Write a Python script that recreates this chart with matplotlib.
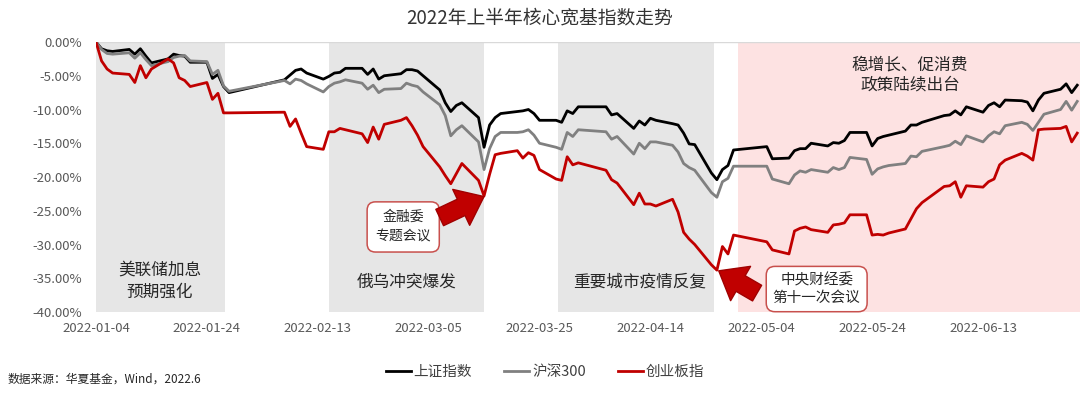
import pandas as pd
import numpy as np
import matplotlib
matplotlib.use('Agg')
import matplotlib.pyplot as plt

plt.rcParams['font.family'] = ['Noto Sans CJK SC', 'DejaVu Sans']

# trading days, 2022 H1 (SSE calendar)
holidays = ['2022-01-31', '2022-02-01', '2022-02-02', '2022-02-03', '2022-02-04',
            '2022-04-04', '2022-04-05', '2022-05-02', '2022-05-03', '2022-05-04',
            '2022-06-03']
dates = pd.bdate_range('2022-01-04', '2022-06-30', freq='C', holidays=holidays)

# cumulative return since 2022-01-04, %
sh_index = [
    # Jan
    0, -1.0, -1.3, -1.4, -1.1, -1.8, -1.0, -2.1, -3.1, -2.5, -1.8, -2.0, -2.1, -3.0, -3.0, -5.4, -4.8, -6.6, -7.5,
    # Feb
    -5.6, -4.9, -4.2, -4.0, -4.6, -5.5, -5.1, -4.6, -4.5, -3.9, -3.9, -4.8, -4.0, -5.5, -5.0, -4.7,
    # Mar
    -4.1, -4.1, -4.3, -5.0, -7.1, -9.0, -10.3, -9.4, -9.0, -11.2, -15.6, -12.3, -11.2, -10.6, -10.3, -10.2,
    -10.0, -10.6, -11.6, -11.6, -11.9, -10.2, -10.6,
    # Apr
    -9.6, -9.6, -10.8, -10.6, -12.8, -11.7, -12.3, -11.3, -11.6, -12.1, -12.3, -13.5, -15.1, -15.2, -19.4,
    -20.4, -18.9, -18.3, -16.0,
    # May
    -15.5, -17.3, -17.2, -16.1, -15.8, -15.8, -15.0, -15.4, -14.9, -15.0, -14.6, -13.4, -13.4, -15.4, -14.3,
    -14.0, -13.8, -13.2, -12.3,
    # Jun
    -12.3, -11.9, -10.9, -10.8, -10.2, -10.8, -9.6, -10.4, -9.4, -9.0, -9.6, -8.6, -8.7, -8.9, -10.2, -8.6,
    -7.6, -7.0, -6.2, -7.5, -6.4,
]
hs300 = [
    0, -1.1, -1.7, -1.8, -1.6, -2.4, -1.6, -2.6, -3.5, -2.9, -2.3, -2.1, -2.0, -2.8, -2.9, -4.8, -4.2, -6.5, -7.3,
    -5.7, -6.2, -5.5, -5.7, -6.2, -7.4, -6.6, -6.1, -5.9, -5.6, -6.1, -7.0, -6.4, -7.5, -7.0, -6.9,
    -6.1, -6.4, -6.6, -7.4, -9.3, -10.9, -13.9, -13.0, -12.4, -14.8, -18.9, -15.8, -14.0, -13.4, -13.4, -13.3,
    -13.0, -13.8, -15.0, -15.6, -15.9, -13.4, -14.0,
    -13.0, -13.3, -14.4, -14.0, -16.6, -15.0, -15.8, -14.8, -14.8, -15.3, -16.3, -18.0, -18.6, -19.0, -22.3,
    -23.0, -20.7, -20.2, -18.4,
    -18.4, -20.3, -21.0, -19.7, -19.1, -19.3, -18.9, -19.3, -18.6, -18.9, -18.6, -17.1, -17.4, -19.6, -18.8,
    -18.5, -18.3, -18.0, -16.9,
    -17.0, -16.2, -15.5, -15.3, -14.7, -15.2, -13.9, -14.8, -13.9, -13.3, -13.6, -12.4, -11.9, -12.2, -13.1,
    -11.9, -10.7, -10.0, -8.8, -10.1, -8.8,
]
chinext = [
    0, -2.8, -4.0, -4.6, -4.8, -6.0, -3.5, -5.3, -4.0, -2.5, -3.1, -5.3, -5.7, -6.6, -6.0, -8.5, -7.6, -10.5, -10.5,
    -10.4, -12.5, -11.4, -13.5, -15.5, -15.9, -13.3, -13.3, -12.8, -13.0, -13.6, -14.9, -12.6, -14.4, -12.2, -11.6,
    -11.2, -12.4, -13.8, -15.5, -18.5, -19.8, -21.0, -19.5, -18.0, -20.5, -22.8, -19.6, -16.7, -16.5, -16.1, -17.2,
    -16.4, -16.8, -18.9, -20.3, -20.5, -17.0, -18.2,
    -17.9, -19.0, -20.4, -20.9, -24.1, -22.4, -24.0, -24.0, -24.3, -23.3, -25.2, -28.2, -29.2, -30.0, -33.0,
    -33.8, -30.3, -31.4, -28.6,
    -29.6, -30.8, -31.4, -28.0, -27.6, -27.4, -27.8, -28.2, -27.1, -27.0, -26.8, -25.6, -25.6, -28.6, -28.5,
    -28.6, -28.3, -27.7, -26.2,
    -24.7, -23.8, -21.4, -21.3, -20.7, -23.0, -21.3, -21.5, -20.7, -20.3, -18.2, -17.5, -16.5, -16.9, -17.5,
    -13.0, -12.9, -12.8, -12.5, -14.8, -13.5,
]
series_names = ['上证指数', '沪深300', '创业板指']
series_colors = ['#000000', '#808080', '#c00000']

# shaded periods
grey_periods = [('2022-01-04', '2022-01-27 08:00'),
                ('2022-02-15', '2022-03-15'),
                ('2022-03-28 10:00', '2022-04-25 10:00')]
pink_period = ('2022-04-29 20:00', '2022-07-01')
period_labels = ['美联储加息\n预期强化', '俄乌冲突爆发', '重要城市疫情反复']
period_label_x = ['2022-01-15 12:00', '2022-03-01', '2022-04-12']
policy_label = '稳增长、促消费\n政策陆续出台'

tick_dates = ['2022-01-04', '2022-01-24', '2022-02-13', '2022-03-05', '2022-03-25',
              '2022-04-14', '2022-05-04', '2022-05-24', '2022-06-13']

fig = plt.figure(figsize=(10.8, 3.94), dpi=100)
ax = fig.add_axes([96 / 1080, 1 - 312 / 394, 984 / 1080, 270 / 394])

for s, e in grey_periods:
    ax.axvspan(pd.Timestamp(s), pd.Timestamp(e), color='#e6e6e6', lw=0, zorder=0)
ax.axvspan(pd.Timestamp(pink_period[0]), pd.Timestamp(pink_period[1]), color='#fde2e2', lw=0, zorder=0)
ax.axhline(0, color='#d9d9d9', lw=1, zorder=1)

for vals, name, c in zip([sh_index, hs300, chinext], series_names, series_colors):
    ax.plot(dates, vals, color=c, lw=2.0, label=name, zorder=3)

start = pd.Timestamp('2022-01-04')
ax.set_xlim(start, start + pd.Timedelta(days=177.5))
ax.set_ylim(-40, 0)
yt = np.arange(0, -41, -5)
ax.set_yticks(yt)
ax.set_yticklabels([f'{v:.2f}%' for v in yt])
ax.set_xticks(pd.to_datetime(tick_dates))
ax.set_xticklabels(tick_dates)
ax.tick_params(length=0, labelsize=9.5, labelcolor='#595959')
ax.tick_params(axis='y', pad=10)
ax.tick_params(axis='x', pad=7)
for sp in ax.spines.values():
    sp.set_visible(False)

# period labels
for txt, x in zip(period_labels, period_label_x):
    ax.text(pd.Timestamp(x), -35.5, txt, ha='center', va='center', fontsize=12,
            color='#262626', linespacing=1.4)
ax.text(pd.Timestamp('2022-05-30 20:00'), -4.9, policy_label, ha='center', va='center',
        fontsize=12, color='#262626', linespacing=1.3)

# call-out boxes
box = dict(boxstyle='round,pad=0.6,rounding_size=0.6', fc='white', ec='#c8504d', lw=1.1)
ax.text(pd.Timestamp('2022-02-28 10:00'), -27.4, '金融委\n专题会议', ha='center', va='center',
        fontsize=10, color='#262626', linespacing=1.5, bbox=box, zorder=5)
box2 = dict(boxstyle='round,pad=0.45,rounding_size=0.6', fc='white', ec='#c8504d', lw=1.1)
ax.text(pd.Timestamp('2022-05-14'), -36.6, '中央财经委\n第十一次会议', ha='center', va='center',
        fontsize=10.5, color='#262626', linespacing=1.35, bbox=box2, zorder=5)

arrow = dict(arrowstyle='simple,head_length=0.7,head_width=1.1,tail_width=0.5',
             fc='#c00000', ec='#a00000', mutation_scale=26, shrinkA=0, shrinkB=0)
ax.annotate('', xy=(pd.Timestamp('2022-03-15'), -22.9),
            xytext=(pd.Timestamp('2022-03-07 00:00'), -26.0), arrowprops=arrow, zorder=6)
ax.annotate('', xy=(pd.Timestamp('2022-04-26 08:00'), -33.9),
            xytext=(pd.Timestamp('2022-05-03 06:00'), -37.2), arrowprops=arrow, zorder=6)

fig.text(0.5, 1 - 18 / 394, '2022年上半年核心宽基指数走势', ha='center', va='center',
         fontsize=13.5, color='#333333')
fig.legend(loc='center', bbox_to_anchor=(545 / 1080, 1 - 372 / 394), ncol=3, frameon=False,
           fontsize=10.5, handlelength=1.7, handletextpad=0.2, columnspacing=2.2,
           labelcolor='#404040')
fig.text(8 / 1080, 1 - 379 / 394, '数据来源：华夏基金，Wind，2022.6', ha='left', va='center',
         fontsize=8.5, color='#262626')

fig.savefig('out.png', dpi=100)
